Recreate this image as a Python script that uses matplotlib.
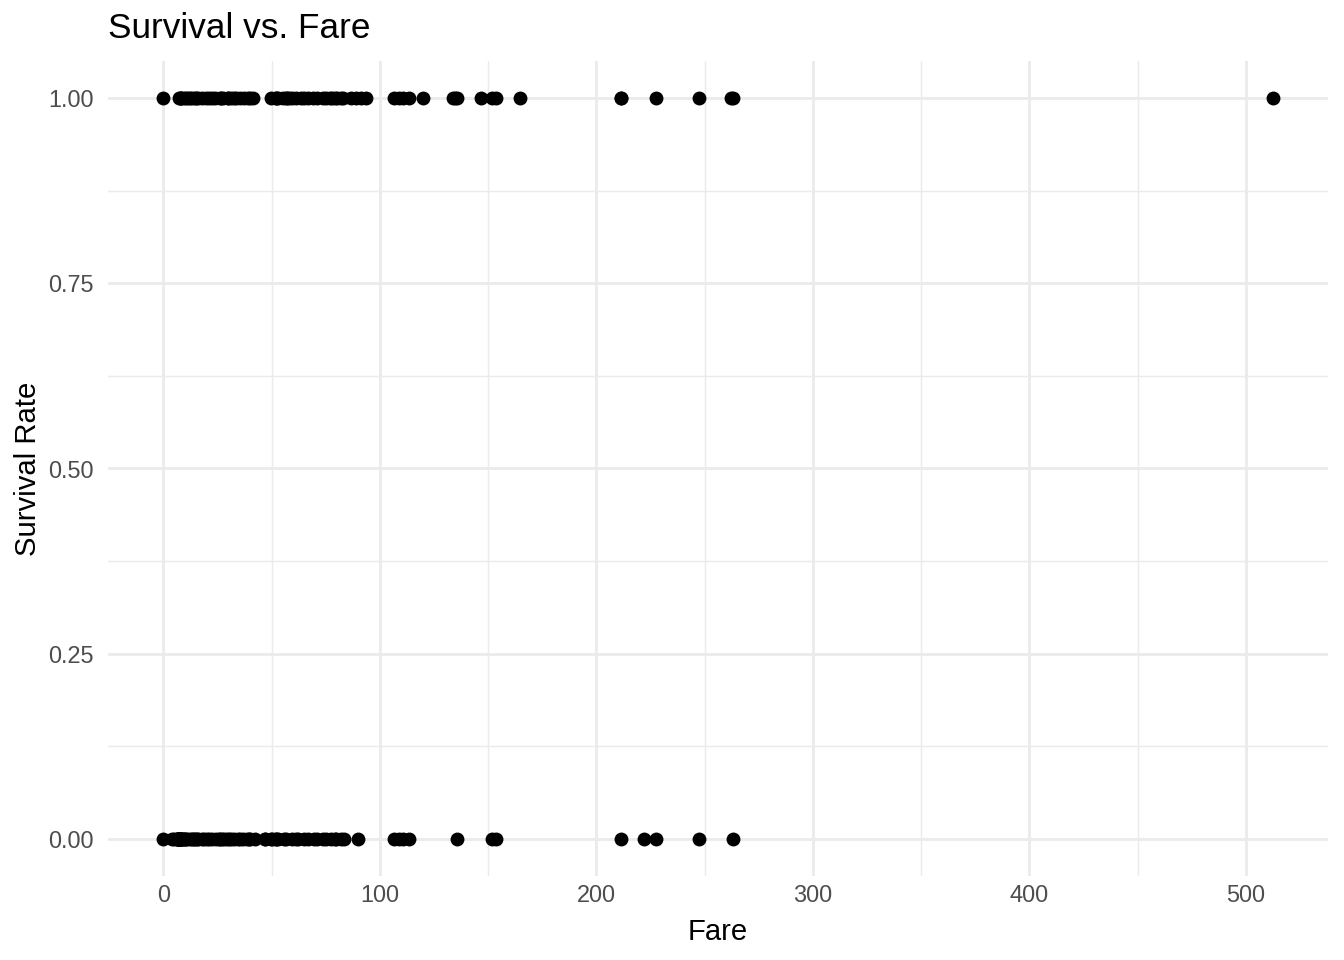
import matplotlib
matplotlib.use("Agg")
import matplotlib.pyplot as plt
import numpy as np

plt.rcParams['font.family'] = ['Liberation Sans', 'DejaVu Sans']

survived_fares = [0, 7.25, 7.75, 7.925, 8.05, 9.5, 10.5, 11.13, 12.47, 13, 14.45, 15.25,
                  16.1, 18, 19.5, 21, 22.36, 24, 26, 26.55, 27.72, 29.7, 30, 31, 32.5, 33.5,
                  35.5, 37, 39, 40.13, 41.58, 49.5, 51.86, 52, 53.1, 55, 56.5, 57, 57.98,
                  59.4, 61.38, 63.36, 65, 66.6, 69.3, 71, 73.5, 75.25, 76.73, 77.96, 79.2,
                  80, 81.86, 83.16, 86.5, 89.1, 91.08, 93.5, 106.43, 108.9, 110.88, 113.28,
                  120, 133.65, 134.5, 135.63, 146.52, 151.55, 153.46, 164.87, 211.34, 211.5,
                  227.52, 247.52, 262.375, 263, 512.33]
died_fares = [0, 4.01, 5, 6.24, 6.45, 6.75, 6.86, 6.95, 7.05, 7.125, 7.225, 7.25, 7.5,
              7.775, 7.85, 7.9, 8.05, 8.66, 9, 9.5, 9.84, 10.5, 11.5, 12.5, 13, 14, 14.5,
              15.5, 16.1, 17.8, 18.75, 20.25, 21, 22.5, 24.15, 25.47, 26, 27, 27.9, 29.125,
              30.5, 31.28, 32.5, 34.38, 35.5, 36.75, 38.5, 39.69, 40.13, 42.4, 46.9, 47.1,
              49.5, 50, 51.86, 52, 53.1, 55.9, 56.5, 59.4, 61.18, 61.98, 65, 66.6, 69.55,
              71, 73.5, 75.25, 77.29, 79.2, 79.65, 81.86, 83.48, 90, 106.43, 108.9, 110.88,
              113.28, 135.63, 151.55, 153.46, 211.5, 221.78, 227.52, 247.52, 263]

x_ticks = [0, 100, 200, 300, 400, 500]
y_ticks = [0.00, 0.25, 0.50, 0.75, 1.00]
y_labels = ["0.00", "0.25", "0.50", "0.75", "1.00"]

W, H = 1344, 960
fig = plt.figure(figsize=(W / 100, H / 100), dpi=100)
ax = fig.add_axes([108 / W, 1 - 876 / H, (1328 - 108) / W, (876 - 61) / H])

xmax = max(survived_fares + died_fares)
xr = xmax - 0
ax.set_xlim(-0.05 * xr, xmax + 0.05 * xr)
ax.set_ylim(-0.05, 1.05)

ax.scatter(survived_fares, [1] * len(survived_fares), s=100, color='black', linewidths=0, zorder=3)
ax.scatter(died_fares, [0] * len(died_fares), s=100, color='black', linewidths=0, zorder=3)

ax.set_xticks(x_ticks)
ax.set_xticks([50, 150, 250, 350, 450], minor=True)
ax.set_yticks(y_ticks)
ax.set_yticklabels(y_labels)
ax.set_yticks([0.125, 0.375, 0.625, 0.875], minor=True)

ax.grid(True, which='major', color='#EBEBEB', linewidth=2.05)
ax.grid(True, which='minor', color='#EBEBEB', linewidth=1.02)
ax.set_axisbelow(True)
for s in ax.spines.values():
    s.set_visible(False)
ax.tick_params(which='both', length=0)
ax.tick_params(axis='x', labelsize=16.9, labelcolor='#4D4D4D', pad=6)
ax.tick_params(axis='y', labelsize=16.9, labelcolor='#4D4D4D', pad=10)

ax.set_xlabel("Fare", fontsize=21.1, color='black', labelpad=8)
ax.set_ylabel("Survival Rate", fontsize=21.1, color='black', labelpad=5)

fig.text(108 / W, 1 - 28 / H, "Survival vs. Fare", fontsize=25.3, ha='left', va='center')

fig.savefig("out.png", dpi=100)
